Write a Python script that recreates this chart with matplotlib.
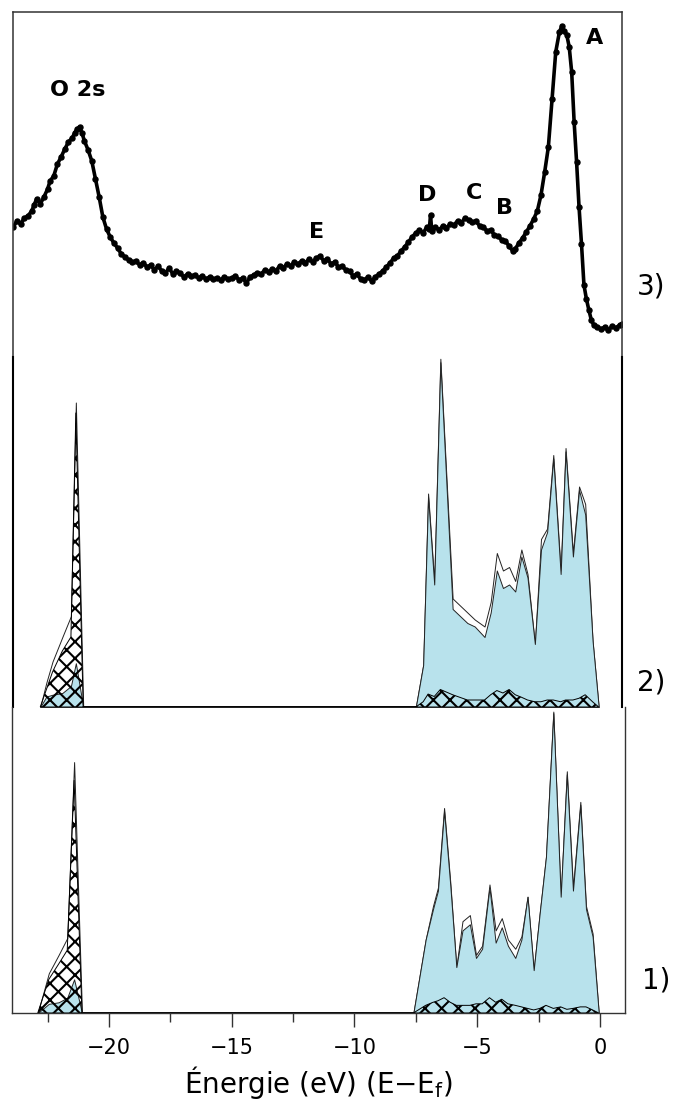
import numpy as np
import matplotlib.pyplot as plt
from matplotlib.ticker import MultipleLocator

plt.rcParams['font.family'] = ['DejaVu Sans']
plt.rcParams['hatch.linewidth'] = 1.5

# --- panel 3: XPS valence band spectrum (a.u.) ---
xps_e = [-23.90, -23.75, -23.60, -23.45, -23.30, -23.15, -23.05, -22.95, -22.80, -22.65,
         -22.50, -22.40, -22.25, -22.10, -21.95, -21.80, -21.65, -21.50, -21.40, -21.30,
         -21.20, -21.10, -21.00, -20.85, -20.70, -20.55, -20.40, -20.25, -20.10, -19.95,
         -19.80, -19.65, -19.50, -19.35, -19.20, -19.05, -18.90, -18.75, -18.60, -18.45,
         -18.30, -18.15, -18.00, -17.85, -17.70, -17.55, -17.40, -17.25, -17.10, -16.95,
         -16.80, -16.65, -16.50, -16.35, -16.20, -16.05, -15.90, -15.75, -15.60, -15.45,
         -15.30, -15.15, -15.00, -14.85, -14.70, -14.55, -14.40, -14.25, -14.10, -13.95,
         -13.80, -13.65, -13.50, -13.35, -13.20, -13.05, -12.90, -12.75, -12.60, -12.45,
         -12.30, -12.15, -12.00, -11.85, -11.70, -11.55, -11.40, -11.25, -11.10, -10.95,
         -10.80, -10.65, -10.50, -10.35, -10.20, -10.05, -9.90, -9.75, -9.60, -9.45,
         -9.30, -9.15, -9.00, -8.85, -8.70, -8.55, -8.40, -8.25, -8.10, -7.95,
         -7.80, -7.65, -7.50, -7.35, -7.20, -7.05, -6.95, -6.90, -6.85, -6.70,
         -6.55, -6.40, -6.25, -6.10, -5.95, -5.80, -5.65, -5.50, -5.35, -5.20,
         -5.05, -4.90, -4.75, -4.60, -4.45, -4.30, -4.15, -4.00, -3.85, -3.70,
         -3.55, -3.45, -3.30, -3.15, -3.00, -2.85, -2.70, -2.55, -2.40, -2.25,
         -2.10, -1.95, -1.80, -1.65, -1.55, -1.45, -1.35, -1.25, -1.15, -1.05,
         -0.95, -0.85, -0.75, -0.65, -0.55, -0.45, -0.35, -0.25, -0.10, 0.05,
         0.20, 0.35, 0.50, 0.65, 0.80, 0.90]
xps_i = [130, 136, 133, 139, 141, 146, 152, 158, 153, 160,
         168, 176, 181, 193, 200, 208, 215, 219, 224, 228,
         230, 224, 216, 207, 196, 178, 160, 140, 128, 120,
         114, 109, 103, 100, 97, 95, 96, 92, 94, 90,
         92, 87, 91, 86, 84, 89, 83, 86, 84, 80,
         83, 81, 82, 79, 81, 78, 80, 78, 79, 77,
         80, 78, 79, 81, 77, 79, 74, 80, 82, 84,
         83, 87, 85, 88, 86, 91, 89, 93, 91, 95,
         93, 96, 94, 98, 95, 99, 101, 96, 98, 93,
         95, 90, 91, 87, 86, 81, 83, 78, 77, 80,
         76, 80, 83, 86, 90, 94, 99, 101, 106, 110,
         115, 120, 124, 127, 124, 130, 128, 142, 126, 130,
         127, 131, 129, 133, 132, 136, 134, 139, 137, 135,
         136, 131, 130, 126, 127, 122, 121, 117, 116, 111,
         106, 108, 114, 119, 125, 131, 138, 146, 162, 185,
         210, 258, 305, 325, 331, 326, 322, 310, 285, 235,
         195, 150, 113, 72, 58, 47, 37, 32, 30, 28,
         30, 27, 31, 29, 32, 33]

peak_labels = ['O 2s', 'A', 'B', 'C', 'D', 'E']
peak_label_e = [-21.26, -0.24, -3.87, -5.13, -7.05, -11.53]
peak_label_i = [267, 319, 149, 164, 162, 125]

# --- panel 2: calculated DOS (total, blue component, hatched component) ---
dos2_e = [-22.80, -22.55, -22.30, -21.90, -21.55, -21.35, -21.05,
          -7.50, -7.20, -7.00, -6.75, -6.50, -6.00, -5.40, -5.10, -4.70, -4.45,
          -4.20, -3.95, -3.70, -3.45, -3.20, -2.95, -2.65, -2.40, -2.15, -1.90,
          -1.60, -1.40, -1.10, -0.85, -0.60, -0.30, -0.05]
dos2_tot = [0, 0.7, 1.3, 2.0, 2.6, 8.7, 0,
            0, 1.2, 6.1, 3.6, 9.95, 3.1, 2.7, 2.5, 2.3, 3.0,
            4.4, 3.9, 4.0, 3.6, 4.5, 3.8, 1.8, 4.8, 5.1, 7.2,
            3.9, 7.4, 4.4, 6.3, 5.8, 1.9, 0]
dos2_blue = [0, 0.3, 0.35, 0.4, 0.6, 1.25, 0,
             0, 1.2, 6.0, 3.5, 9.85, 2.8, 2.4, 2.3, 2.0, 2.7,
             3.9, 3.4, 3.5, 3.3, 4.3, 3.7, 1.8, 4.5, 5.0, 7.1,
             3.8, 7.3, 4.3, 6.2, 5.5, 1.9, 0]
dos2_hatch = [0, 0.5, 1.0, 1.6, 2.0, 8.4, 0,
              0, 0.15, 0.37, 0.3, 0.5, 0.35, 0.2, 0.2, 0.2, 0.35,
              0.47, 0.4, 0.5, 0.35, 0.28, 0.2, 0.15, 0.15, 0.2, 0.2,
              0.15, 0.2, 0.2, 0.25, 0.35, 0.15, 0]

# --- panel 1: calculated DOS ---
dos1_e = [-22.90, -22.45, -22.05, -21.70, -21.42, -21.10,
          -7.60, -7.10, -6.80, -6.60, -6.35, -6.10, -5.85, -5.60, -5.30, -5.05,
          -4.80, -4.50, -4.25, -4.00, -3.75, -3.45, -3.20, -2.95, -2.70, -2.45,
          -2.20, -1.90, -1.60, -1.35, -1.10, -0.80, -0.57, -0.30, -0.05]
dos1_tot = [0, 1.3, 1.9, 2.45, 8.2, 0,
            0, 2.4, 3.5, 4.1, 6.7, 4.3, 1.5, 3.0, 3.2, 1.9,
            2.2, 4.2, 2.7, 3.1, 2.4, 2.1, 2.5, 3.8, 1.4, 3.3,
            5.1, 9.85, 3.8, 7.9, 4.1, 6.9, 3.5, 2.6, 0]
dos1_blue = [0, 0.3, 0.35, 0.5, 1.1, 0,
             0, 2.4, 3.4, 4.0, 6.6, 4.2, 1.5, 2.7, 2.9, 1.8,
             2.1, 4.1, 2.3, 2.8, 2.2, 1.8, 2.4, 3.8, 1.4, 3.3,
             5.1, 9.8, 3.8, 7.8, 4.0, 6.8, 3.4, 2.5, 0]
dos1_hatch = [0, 1.1, 1.6, 2.05, 7.6, 0,
              0, 0.25, 0.35, 0.4, 0.5, 0.35, 0.25, 0.25, 0.25, 0.3,
              0.3, 0.5, 0.35, 0.45, 0.3, 0.25, 0.2, 0.15, 0.1, 0.15,
              0.25, 0.15, 0.2, 0.12, 0.15, 0.2, 0.2, 0.1, 0]

blue = '#b8e2ec'

fig = plt.figure(figsize=(6.78, 11.08), dpi=100)
ax3 = fig.add_axes([13/678, 1-357/1108, 609/678, 345/1108])
ax2 = fig.add_axes([13/678, 1-707/1108, 609/678, 350/1108])
ax1 = fig.add_axes([12/678, 1-1013/1108, 613/678, 306/1108])

# top: spectrum
ax3.plot(xps_e, xps_i, color='black', lw=2.6, marker='o', ms=3.6)
for lab, e, i in zip(peak_labels, peak_label_e, peak_label_i):
    ax3.text(e, i, lab, fontsize=16, fontweight='bold', ha='center', va='center')
ax3.set_xlim(-23.91, 0.90)
ax3.set_ylim(0, 345)
ax3.spines['bottom'].set_visible(False)
for s in ['left', 'right', 'top']:
    ax3.spines[s].set_linewidth(1.1)
    ax3.spines[s].set_color('#333333')
ax3.set_xticks([])
ax3.set_yticks([])
ax3.patch.set_alpha(0)


def draw_dos(ax, e, tot, comp, hat):
    e = np.array(e)
    ax.fill_between(e, 0, tot, facecolor='white', edgecolor='#222222', lw=0.7)
    ax.fill_between(e, 0, comp, facecolor=blue, edgecolor='#222222', lw=0.7)
    ax.fill_between(e, 0, hat, facecolor='none', edgecolor='black', hatch='xx', lw=0.7)


draw_dos(ax2, dos2_e, dos2_tot, dos2_blue, dos2_hatch)
ax2.set_xlim(-23.91, 0.90)
ax2.set_ylim(0, 10)
for s in ['top', 'bottom']:
    ax2.spines[s].set_visible(False)
for s in ['left', 'right']:
    ax2.spines[s].set_linewidth(1.5)
ax2.set_xticks([])
ax2.set_yticks([])
ax2.patch.set_alpha(0)

draw_dos(ax1, dos1_e, dos1_tot, dos1_blue, dos1_hatch)
ax1.set_xlim(-23.95, 1.02)
ax1.set_ylim(0, 10)
ax1.spines['top'].set_visible(False)
for s in ['left', 'right', 'bottom']:
    ax1.spines[s].set_linewidth(1.0)
    ax1.spines[s].set_color('#333333')
ax1.set_yticks([])
ax1.set_xticks([-20, -15, -10, -5, 0])
ax1.xaxis.set_minor_locator(MultipleLocator(2.5))
ax1.tick_params(axis='x', which='major', length=10, width=1.0, pad=8, labelsize=15, color='#333333')
ax1.tick_params(axis='x', which='minor', length=6.5, width=1.0, color='#333333')
ax1.set_xlabel('Énergie (eV) (E\u2212E$\\mathregular{_f}$)', fontsize=20, labelpad=4)
ax1.patch.set_alpha(0)

fig.text(651/678, 1-287/1108, '3)', fontsize=20, ha='center', va='center')
fig.text(651/678, 1-682/1108, '2)', fontsize=20, ha='center', va='center')
fig.text(656/678, 1-980/1108, '1)', fontsize=20, ha='center', va='center')

fig.savefig('out.png', dpi=100)
